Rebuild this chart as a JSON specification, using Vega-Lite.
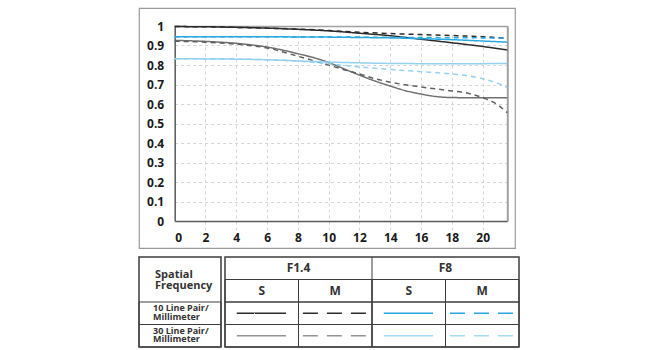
{
  "$schema": "https://vega.github.io/schema/vega-lite/v6.json",
  "padding": {"left": 137, "top": 7, "right": 0, "bottom": 0},
  "config": {
    "font": "Open Sans",
    "text": {"font": "Open Sans"},
    "axis": {"labelFont": "Open Sans"}
  },
  "datasets": {
    "mtf": [
      {"series": "F1.4 S 10", "fno": "F1.4", "h": 0, "mtf": 0.997},
      {"series": "F1.4 S 10", "fno": "F1.4", "h": 2, "mtf": 0.996},
      {"series": "F1.4 S 10", "fno": "F1.4", "h": 4, "mtf": 0.993},
      {"series": "F1.4 S 10", "fno": "F1.4", "h": 6, "mtf": 0.989},
      {"series": "F1.4 S 10", "fno": "F1.4", "h": 8, "mtf": 0.983},
      {"series": "F1.4 S 10", "fno": "F1.4", "h": 10, "mtf": 0.975},
      {"series": "F1.4 S 10", "fno": "F1.4", "h": 12, "mtf": 0.963},
      {"series": "F1.4 S 10", "fno": "F1.4", "h": 14, "mtf": 0.95},
      {"series": "F1.4 S 10", "fno": "F1.4", "h": 16, "mtf": 0.932},
      {"series": "F1.4 S 10", "fno": "F1.4", "h": 18, "mtf": 0.914},
      {"series": "F1.4 S 10", "fno": "F1.4", "h": 20, "mtf": 0.895},
      {"series": "F1.4 S 10", "fno": "F1.4", "h": 21.6, "mtf": 0.877},

      {"series": "F1.4 M 10", "fno": "F1.4", "h": 0, "mtf": 0.997},
      {"series": "F1.4 M 10", "fno": "F1.4", "h": 2, "mtf": 0.996},
      {"series": "F1.4 M 10", "fno": "F1.4", "h": 4, "mtf": 0.993},
      {"series": "F1.4 M 10", "fno": "F1.4", "h": 6, "mtf": 0.989},
      {"series": "F1.4 M 10", "fno": "F1.4", "h": 8, "mtf": 0.984},
      {"series": "F1.4 M 10", "fno": "F1.4", "h": 10, "mtf": 0.977},
      {"series": "F1.4 M 10", "fno": "F1.4", "h": 12, "mtf": 0.968},
      {"series": "F1.4 M 10", "fno": "F1.4", "h": 14, "mtf": 0.961},
      {"series": "F1.4 M 10", "fno": "F1.4", "h": 16, "mtf": 0.956},
      {"series": "F1.4 M 10", "fno": "F1.4", "h": 18, "mtf": 0.951},
      {"series": "F1.4 M 10", "fno": "F1.4", "h": 20, "mtf": 0.945},
      {"series": "F1.4 M 10", "fno": "F1.4", "h": 21.6, "mtf": 0.937},

      {"series": "F1.4 S 30", "fno": "F1.4", "h": 0, "mtf": 0.926},
      {"series": "F1.4 S 30", "fno": "F1.4", "h": 2, "mtf": 0.921},
      {"series": "F1.4 S 30", "fno": "F1.4", "h": 4, "mtf": 0.911},
      {"series": "F1.4 S 30", "fno": "F1.4", "h": 6, "mtf": 0.892},
      {"series": "F1.4 S 30", "fno": "F1.4", "h": 8, "mtf": 0.858},
      {"series": "F1.4 S 30", "fno": "F1.4", "h": 10, "mtf": 0.813},
      {"series": "F1.4 S 30", "fno": "F1.4", "h": 11, "mtf": 0.78},
      {"series": "F1.4 S 30", "fno": "F1.4", "h": 12, "mtf": 0.748},
      {"series": "F1.4 S 30", "fno": "F1.4", "h": 13, "mtf": 0.718},
      {"series": "F1.4 S 30", "fno": "F1.4", "h": 14, "mtf": 0.692},
      {"series": "F1.4 S 30", "fno": "F1.4", "h": 15, "mtf": 0.668},
      {"series": "F1.4 S 30", "fno": "F1.4", "h": 16, "mtf": 0.651},
      {"series": "F1.4 S 30", "fno": "F1.4", "h": 17, "mtf": 0.638},
      {"series": "F1.4 S 30", "fno": "F1.4", "h": 18, "mtf": 0.633},
      {"series": "F1.4 S 30", "fno": "F1.4", "h": 20, "mtf": 0.632},
      {"series": "F1.4 S 30", "fno": "F1.4", "h": 21.6, "mtf": 0.632},

      {"series": "F1.4 M 30", "fno": "F1.4", "h": 0, "mtf": 0.922},
      {"series": "F1.4 M 30", "fno": "F1.4", "h": 2, "mtf": 0.917},
      {"series": "F1.4 M 30", "fno": "F1.4", "h": 4, "mtf": 0.907},
      {"series": "F1.4 M 30", "fno": "F1.4", "h": 6, "mtf": 0.887},
      {"series": "F1.4 M 30", "fno": "F1.4", "h": 8, "mtf": 0.845},
      {"series": "F1.4 M 30", "fno": "F1.4", "h": 10, "mtf": 0.8},
      {"series": "F1.4 M 30", "fno": "F1.4", "h": 11, "mtf": 0.776},
      {"series": "F1.4 M 30", "fno": "F1.4", "h": 12, "mtf": 0.754},
      {"series": "F1.4 M 30", "fno": "F1.4", "h": 13, "mtf": 0.73},
      {"series": "F1.4 M 30", "fno": "F1.4", "h": 14, "mtf": 0.712},
      {"series": "F1.4 M 30", "fno": "F1.4", "h": 16, "mtf": 0.687},
      {"series": "F1.4 M 30", "fno": "F1.4", "h": 18, "mtf": 0.667},
      {"series": "F1.4 M 30", "fno": "F1.4", "h": 19, "mtf": 0.656},
      {"series": "F1.4 M 30", "fno": "F1.4", "h": 20, "mtf": 0.632},
      {"series": "F1.4 M 30", "fno": "F1.4", "h": 21, "mtf": 0.595},
      {"series": "F1.4 M 30", "fno": "F1.4", "h": 21.6, "mtf": 0.555},

      {"series": "F8 S 10", "fno": "F8", "h": 0, "mtf": 0.945},
      {"series": "F8 S 10", "fno": "F8", "h": 4, "mtf": 0.945},
      {"series": "F8 S 10", "fno": "F8", "h": 8, "mtf": 0.944},
      {"series": "F8 S 10", "fno": "F8", "h": 10, "mtf": 0.943},
      {"series": "F8 S 10", "fno": "F8", "h": 12, "mtf": 0.941},
      {"series": "F8 S 10", "fno": "F8", "h": 14, "mtf": 0.939},
      {"series": "F8 S 10", "fno": "F8", "h": 16, "mtf": 0.935},
      {"series": "F8 S 10", "fno": "F8", "h": 18, "mtf": 0.93},
      {"series": "F8 S 10", "fno": "F8", "h": 20, "mtf": 0.923},
      {"series": "F8 S 10", "fno": "F8", "h": 21.6, "mtf": 0.917},

      {"series": "F8 M 10", "fno": "F8", "h": 0, "mtf": 0.945},
      {"series": "F8 M 10", "fno": "F8", "h": 4, "mtf": 0.945},
      {"series": "F8 M 10", "fno": "F8", "h": 8, "mtf": 0.944},
      {"series": "F8 M 10", "fno": "F8", "h": 10, "mtf": 0.944},
      {"series": "F8 M 10", "fno": "F8", "h": 12, "mtf": 0.943},
      {"series": "F8 M 10", "fno": "F8", "h": 14, "mtf": 0.942},
      {"series": "F8 M 10", "fno": "F8", "h": 16, "mtf": 0.941},
      {"series": "F8 M 10", "fno": "F8", "h": 18, "mtf": 0.94},
      {"series": "F8 M 10", "fno": "F8", "h": 20, "mtf": 0.939},
      {"series": "F8 M 10", "fno": "F8", "h": 21.6, "mtf": 0.938},

      {"series": "F8 S 30", "fno": "F8", "h": 0, "mtf": 0.832},
      {"series": "F8 S 30", "fno": "F8", "h": 4, "mtf": 0.83},
      {"series": "F8 S 30", "fno": "F8", "h": 6, "mtf": 0.827},
      {"series": "F8 S 30", "fno": "F8", "h": 8, "mtf": 0.821},
      {"series": "F8 S 30", "fno": "F8", "h": 10, "mtf": 0.815},
      {"series": "F8 S 30", "fno": "F8", "h": 12, "mtf": 0.811},
      {"series": "F8 S 30", "fno": "F8", "h": 14, "mtf": 0.808},
      {"series": "F8 S 30", "fno": "F8", "h": 16, "mtf": 0.807},
      {"series": "F8 S 30", "fno": "F8", "h": 18, "mtf": 0.807},
      {"series": "F8 S 30", "fno": "F8", "h": 20, "mtf": 0.807},
      {"series": "F8 S 30", "fno": "F8", "h": 21.6, "mtf": 0.808},

      {"series": "F8 M 30", "fno": "F8", "h": 0, "mtf": 0.832},
      {"series": "F8 M 30", "fno": "F8", "h": 4, "mtf": 0.83},
      {"series": "F8 M 30", "fno": "F8", "h": 6, "mtf": 0.827},
      {"series": "F8 M 30", "fno": "F8", "h": 8, "mtf": 0.82},
      {"series": "F8 M 30", "fno": "F8", "h": 10, "mtf": 0.806},
      {"series": "F8 M 30", "fno": "F8", "h": 12, "mtf": 0.79},
      {"series": "F8 M 30", "fno": "F8", "h": 14, "mtf": 0.777},
      {"series": "F8 M 30", "fno": "F8", "h": 16, "mtf": 0.766},
      {"series": "F8 M 30", "fno": "F8", "h": 18, "mtf": 0.754},
      {"series": "F8 M 30", "fno": "F8", "h": 19, "mtf": 0.745},
      {"series": "F8 M 30", "fno": "F8", "h": 20, "mtf": 0.73},
      {"series": "F8 M 30", "fno": "F8", "h": 21, "mtf": 0.706},
      {"series": "F8 M 30", "fno": "F8", "h": 21.6, "mtf": 0.686}
    ],
    "rowlabels": [
      {"col": "label", "row": "head", "kind": "head", "text": ["Spatial", "Frequency"]},
      {"col": "label", "row": "10", "kind": "row", "text": ["10 Line Pair/", "Millimeter"]},
      {"col": "label", "row": "30", "kind": "row", "text": ["30 Line Pair/", "Millimeter"]}
    ],
    "cells": [
      {"kind": "group", "col": "F1.4 S", "row": "head", "text": "F1.4"},
      {"kind": "group", "col": "F8 S", "row": "head", "text": "F8"},
      {"kind": "sub", "col": "F1.4 S", "row": "sub", "text": "S"},
      {"kind": "sub", "col": "F1.4 M", "row": "sub", "text": "M"},
      {"kind": "sub", "col": "F8 S", "row": "sub", "text": "S"},
      {"kind": "sub", "col": "F8 M", "row": "sub", "text": "M"},
      {"kind": "sample", "pos": "S", "col": "F1.4 S", "row": "10", "series": "F1.4 S 10"},
      {"kind": "sample", "pos": "M", "col": "F1.4 M", "row": "10", "series": "F1.4 M 10"},
      {"kind": "sample", "pos": "S", "col": "F8 S", "row": "10", "series": "F8 S 10"},
      {"kind": "sample", "pos": "M", "col": "F8 M", "row": "10", "series": "F8 M 10"},
      {"kind": "sample", "pos": "S", "col": "F1.4 S", "row": "30", "series": "F1.4 S 30"},
      {"kind": "sample", "pos": "M", "col": "F1.4 M", "row": "30", "series": "F1.4 M 30"},
      {"kind": "sample", "pos": "S", "col": "F8 S", "row": "30", "series": "F8 S 30"},
      {"kind": "sample", "pos": "M", "col": "F8 M", "row": "30", "series": "F8 M 30"}
    ]
  },
  "spacing": 6,
  "resolve": {"scale": {"color": "independent", "strokeDash": "independent"}},
  "vconcat": [
    {
      "width": 376,
      "height": 240,
      "view": {"stroke": "#9a9a9a", "strokeWidth": 1.2},
      "data": {"name": "mtf"},
      "layer": [
        {
          "transform": [{"filter": "datum.fno === 'F1.4'"}],
          "mark": {"type": "line", "interpolate": "monotone", "strokeWidth": 1.5},
          "encoding": {
            "x": {
              "field": "h", "type": "quantitative",
              "scale": {"domain": [0, 21.6], "range": [35.7, 368.3], "nice": false, "zero": false},
              "axis": {
                "orient": "bottom", "offset": -27, "title": null,
                "values": [0, 2, 4, 6, 8, 10, 12, 14, 16, 18, 20],
                "ticks": false, "domainColor": "#5a5a5a", "domainWidth": 1.5,
                "labelFontSize": 12, "labelFontWeight": "bold", "labelColor": "#1a1a1a", "labelPadding": 11,
                "grid": true, "gridColor": "#d4d4d4", "gridDash": [3, 3], "gridWidth": 1,
                "gridOpacity": {"condition": {"test": "datum.value === 0", "value": 0}, "value": 1}
              }
            },
            "y": {
              "field": "mtf", "type": "quantitative",
              "scale": {"domain": [0, 1], "range": [213, 18], "nice": false, "zero": false},
              "axis": {
                "orient": "left", "offset": -35.7, "title": null,
                "values": [0, 0.1, 0.2, 0.3, 0.4, 0.5, 0.6, 0.7, 0.8, 0.9, 1],
                "format": "~g",
                "ticks": false, "domainColor": "#5a5a5a", "domainWidth": 1.5,
                "labelFontSize": 12, "labelFontWeight": "bold", "labelColor": "#1a1a1a", "labelPadding": 11,
                "grid": true, "gridColor": "#d4d4d4", "gridDash": [3, 3], "gridWidth": 1,
                "gridOpacity": {"condition": {"test": "datum.value === 0 || datum.value === 1", "value": 0}, "value": 1}
              }
            },
            "color": {
              "field": "series", "type": "nominal", "legend": null,
              "scale": {
                "domain": ["F1.4 S 10", "F1.4 M 10", "F1.4 S 30", "F1.4 M 30", "F8 S 10", "F8 M 10", "F8 S 30", "F8 M 30"],
                "range": ["#2b2b2b", "#2b2b2b", "#707070", "#606060", "#29a8e0", "#29a8e0", "#93d2f0", "#93d2f0"]
              }
            },
            "strokeDash": {
              "field": "series", "type": "nominal", "legend": null,
              "scale": {
                "domain": ["F1.4 S 10", "F1.4 M 10", "F1.4 S 30", "F1.4 M 30", "F8 S 10", "F8 M 10", "F8 S 30", "F8 M 30"],
                "range": [[1, 0], [5, 4], [1, 0], [5, 4], [1, 0], [5, 4], [1, 0], [5, 4]]
              }
            }
          }
        },
        {
          "transform": [{"filter": "datum.fno === 'F8'"}],
          "mark": {"type": "line", "interpolate": "monotone", "strokeWidth": 1.5},
          "encoding": {
            "x": {
              "field": "h", "type": "quantitative",
              "axis": {"orient": "top", "offset": -18, "title": null, "labels": false, "ticks": false, "grid": false, "domainColor": "#a0a0a0", "domainWidth": 1.5}
            },
            "y": {
              "field": "mtf", "type": "quantitative",
              "axis": {"orient": "right", "offset": -7.7, "title": null, "labels": false, "ticks": false, "grid": false, "domainColor": "#a0a0a0", "domainWidth": 2}
            },
            "color": {"field": "series", "type": "nominal", "legend": null},
            "strokeDash": {"field": "series", "type": "nominal", "legend": null}
          }
        }
      ]
    },
    {
      "spacing": 0,
      "resolve": {"scale": {"color": "shared", "strokeDash": "shared"}},
      "hconcat": [
        {
          "width": 82,
          "height": 90,
          "view": {"stroke": "#3c3c3c", "strokeWidth": 1.5},
          "data": {"name": "rowlabels"},
          "encoding": {
            "x": {"field": "col", "type": "nominal", "axis": null, "scale": {"domain": ["label"], "paddingInner": 0, "paddingOuter": 0}},
            "y": {"field": "row", "type": "nominal", "axis": null, "scale": {"domain": ["head", "sub", "10", "30"], "paddingInner": 0, "paddingOuter": 0}}
          },
          "layer": [
            {
              "transform": [{"filter": "datum.kind === 'row'"}],
              "mark": {"type": "rect", "fill": "transparent", "stroke": "#3c3c3c", "strokeWidth": 1}
            },
            {
              "transform": [{"filter": "datum.kind === 'head'"}],
              "mark": {"type": "text", "align": "left", "baseline": "line-bottom", "dx": 16, "fontSize": 11, "fontWeight": "bold", "lineHeight": 11, "color": "#333"},
              "encoding": {
                "x": {"field": "col", "type": "nominal", "bandPosition": 0},
                "y": {"field": "row", "type": "nominal", "bandPosition": 1},
                "text": {"field": "text"}
              }
            },
            {
              "transform": [{"filter": "datum.kind === 'row'"}],
              "mark": {"type": "text", "align": "left", "baseline": "line-bottom", "dx": 14, "fontSize": 9, "fontWeight": "bold", "lineHeight": 8.5, "color": "#333"},
              "encoding": {
                "x": {"field": "col", "type": "nominal", "bandPosition": 0},
                "text": {"field": "text"}
              }
            }
          ]
        },
        {
          "width": 294,
          "height": 90,
          "view": {"stroke": "#3c3c3c", "strokeWidth": 1.5},
          "data": {"name": "cells"},
          "encoding": {
            "x": {"field": "col", "type": "nominal", "axis": null, "scale": {"domain": ["F1.4 S", "F1.4 M", "F8 S", "F8 M"], "paddingInner": 0, "paddingOuter": 0}},
            "y": {"field": "row", "type": "nominal", "axis": null, "scale": {"domain": ["head", "sub", "10", "30"], "paddingInner": 0, "paddingOuter": 0}}
          },
          "layer": [
            {
              "transform": [{"filter": "datum.kind !== 'group'"}],
              "mark": {"type": "rect", "fill": "transparent", "stroke": "#3c3c3c", "strokeWidth": 1}
            },
            {
              "transform": [{"filter": "datum.kind === 'group' && datum.col === 'F8 S'"}],
              "mark": {"type": "rule", "stroke": "#3c3c3c", "strokeWidth": 1},
              "encoding": {
                "x": {"field": "col", "type": "nominal", "bandPosition": 0},
                "y": null
              }
            },
            {
              "transform": [{"filter": "datum.kind === 'group'"}],
              "mark": {"type": "text", "align": "center", "baseline": "middle", "fontSize": 12, "fontWeight": "bold", "color": "#333"},
              "encoding": {
                "x": {"field": "col", "type": "nominal", "bandPosition": 1},
                "text": {"field": "text"}
              }
            },
            {
              "transform": [{"filter": "datum.kind === 'sub'"}],
              "mark": {"type": "text", "align": "center", "baseline": "middle", "fontSize": 12, "fontWeight": "bold", "color": "#333"},
              "encoding": {
                "text": {"field": "text"}
              }
            },
            {
              "transform": [{"filter": "datum.kind === 'sample' && datum.pos === 'S'"}],
              "mark": {"type": "rule", "strokeWidth": 1.5},
              "encoding": {
                "x": {"field": "col", "type": "nominal", "bandPosition": 0.16},
                "x2": {"field": "col", "bandPosition": 0.83},
                "color": {
                  "field": "series", "type": "nominal", "legend": null,
                  "scale": {
                    "domain": ["F1.4 S 10", "F1.4 M 10", "F1.4 S 30", "F1.4 M 30", "F8 S 10", "F8 M 10", "F8 S 30", "F8 M 30"],
                    "range": ["#2b2b2b", "#2b2b2b", "#959595", "#959595", "#29a8e0", "#29a8e0", "#a3d9f3", "#a3d9f3"]
                  }
                },
                "strokeDash": {
                  "field": "series", "type": "nominal", "legend": null,
                  "scale": {
                    "domain": ["F1.4 S 10", "F1.4 M 10", "F1.4 S 30", "F1.4 M 30", "F8 S 10", "F8 M 10", "F8 S 30", "F8 M 30"],
                    "range": [[1, 0], [15, 9], [1, 0], [15, 9], [1, 0], [15, 9], [1, 0], [15, 9]]
                  }
                }
              }
            },
            {
              "transform": [{"filter": "datum.kind === 'sample' && datum.pos === 'M'"}],
              "mark": {"type": "rule", "strokeWidth": 1.5},
              "encoding": {
                "x": {"field": "col", "type": "nominal", "bandPosition": 0.06},
                "x2": {"field": "col", "bandPosition": 0.935},
                "color": {"field": "series", "type": "nominal", "legend": null},
                "strokeDash": {"field": "series", "type": "nominal", "legend": null}
              }
            }
          ]
        }
      ]
    }
  ]
}
